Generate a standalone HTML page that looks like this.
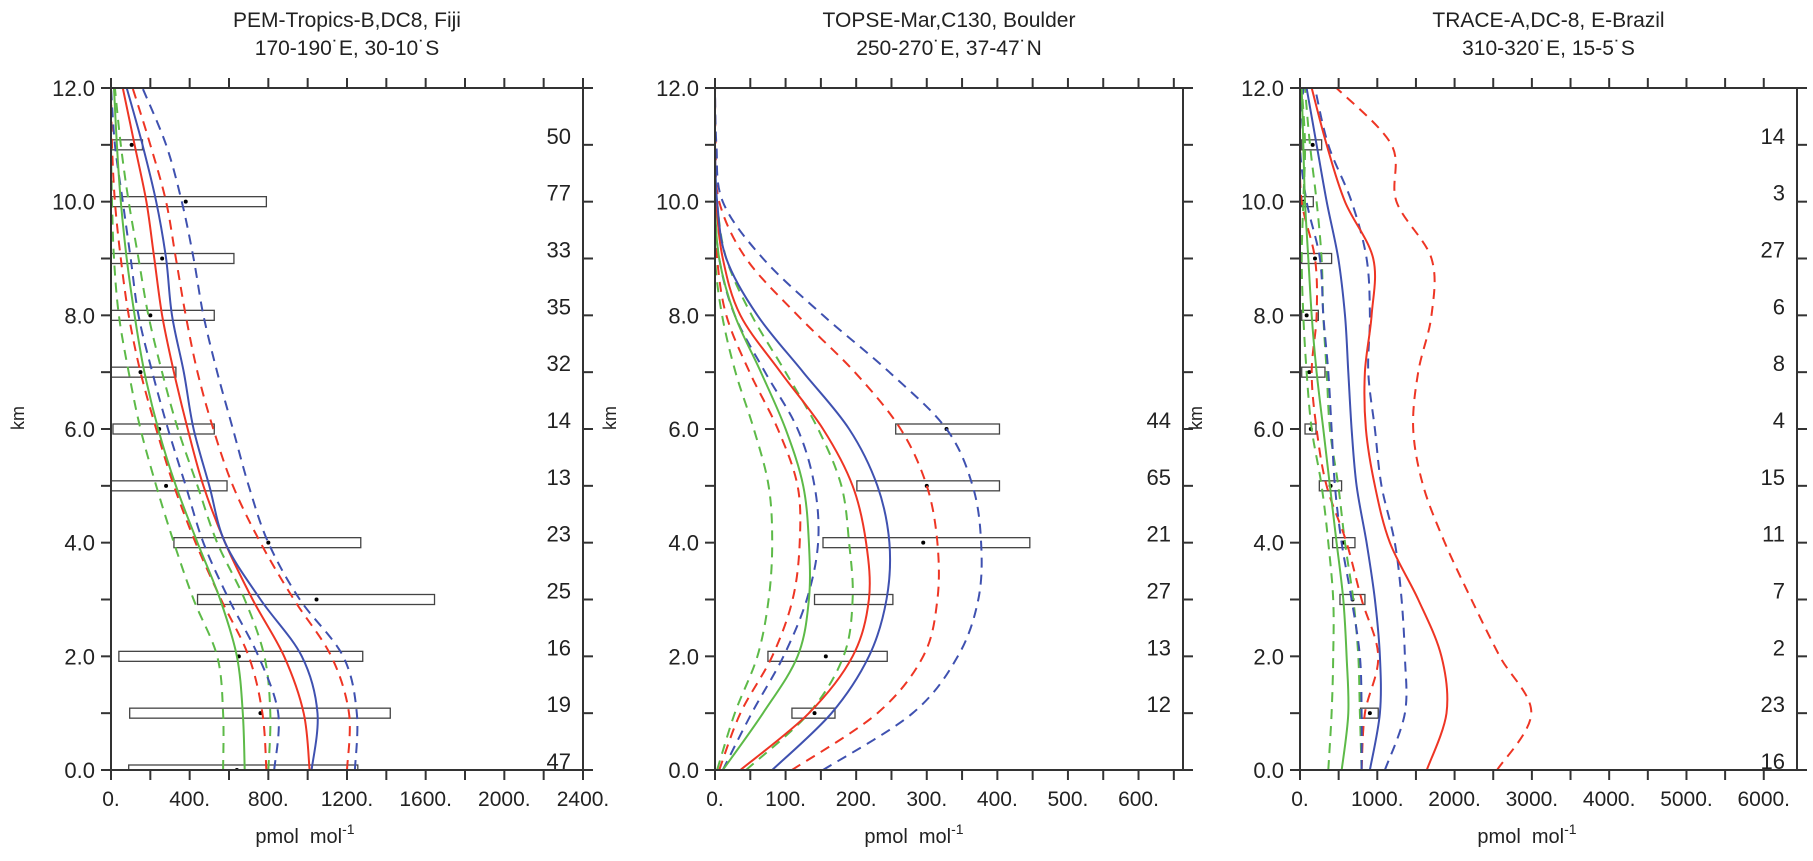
<!DOCTYPE html>
<html><head><meta charset="utf-8"><style>
html,body{margin:0;padding:0;background:#fff;}
svg{display:block;}
text{font-family:"Liberation Sans",sans-serif;fill:#222;}
</style></head><body>
<svg id="chart" width="1813" height="861" viewBox="0 0 1813 861" xmlns="http://www.w3.org/2000/svg"></svg>
<script>
// ---------- data ----------
const altitudes = [0,1,2,3,4,5,6,7,8,9,10,11,12];
// Panel 1: PEM-Tropics-B
const p1RedSolid  = [1010,980,880,720,580,470,390,320,260,220,180,120,60];
const p1RedLow    = [790,770,700,560,430,320,230,150,90,50,20,5,0];
const p1RedHigh   = [1200,1210,1120,930,760,620,520,440,380,330,280,200,110];
const p1BlueSolid = [1020,1050,970,760,580,500,420,370,310,280,230,160,80];
const p1BlueLow   = [830,850,750,600,470,380,290,210,140,100,60,20,0];
const p1BlueHigh  = [1240,1250,1180,960,800,700,620,540,470,420,360,280,160];
const p1GreenSolid= [680,670,640,555,440,330,240,170,120,80,50,30,15];
const p1GreenLow  = [570,570,540,420,320,230,150,90,40,15,5,0,0];
const p1GreenHigh = [800,810,780,680,540,440,340,260,190,140,90,50,20];
const p1BarAlt  = [0,1,2,3,4,5,6,7,8,9,10,11];
const p1BarMin  = [90,95,40,440,320,0,10,0,0,0,0,0];
const p1BarMax  = [1255,1420,1280,1645,1270,590,525,330,525,625,790,160];
const p1BarMean = [640,760,650,1045,800,280,245,150,200,260,380,105];
const p1Counts  = ["47","19","16","25","23","13","14","32","35","33","77","50"];
// Panel 2: TOPSE
const p2RedSolid  = [36,133,195,218,214,195,153,93,36,11,2,0,0];
const p2RedLow    = [6,36,81,110,120,117,89,49,16,3,0,0,0];
const p2RedHigh   = [109,230,295,315,315,300,263,198,117,44,6,1,0];
const p2BlueSolid = [81,165,218,243,247,230,190,125,60,16,3,0,0];
const p2BlueLow   = [11,52,97,130,146,141,117,71,28,6,0,0,0];
const p2BlueHigh  = [153,280,344,373,377,365,328,247,153,68,11,2,0];
const p2GreenSolid= [11,68,117,133,133,125,100,65,28,6,0,0,0];
const p2GreenLow  = [3,28,60,76,81,76,55,29,10,0,0,0,0];
const p2GreenHigh = [44,133,182,195,190,179,146,100,52,16,3,0,0];
const p2BarAlt  = [1,2,3,4,5,6];
const p2BarMin  = [109,75,141,153,201,256];
const p2BarMax  = [170,244,252,446,403,403];
const p2BarMean = [141,157,null,295,300,328];
const p2Counts  = ["12","13","27","21","65","44"];
// Panel 3: TRACE-A
const p3RedSolid  = [1640,1895,1830,1529,1163,969,853,840,926,947,582,345,151];
const p3RedLow    = [797,840,1012,797,603,344,215,151,215,194,22,0,0];
const p3RedHigh   = [2550,2993,2584,2218,1874,1594,1465,1529,1701,1701,1249,1184,474];
const p3BlueSolid = [904,1034,1034,969,861,732,668,625,582,495,345,215,86];
const p3BlueLow   = [797,797,775,668,538,452,409,366,301,258,86,0,43];
const p3BlueHigh  = [1098,1357,1357,1314,1227,1055,969,883,904,861,668,366,194];
const p3GreenSolid= [540,625,603,560,474,387,301,215,151,108,65,43,22];
const p3GreenLow  = [366,409,430,430,366,280,151,86,43,22,43,65,22];
const p3GreenHigh = [797,775,754,689,582,495,387,345,301,280,215,129,65];
const p3BarAlt  = [1,3,4,5,6,7,8,9,10,11];
const p3BarMin  = [783,517,422,250,65,22,22,22,22,22];
const p3BarMax  = [1012,840,711,538,207,323,237,409,172,280];
const p3BarMean = [904,680,560,396,140,120,86,194,50,164];
const p3Counts  = ["16","23","2","7","11","15","4","8","6","27","3","14"];
const p3CountAlt = [0,1,2,3,4,5,6,7,8,9,10,11];

const RED="#ee3524", BLUE="#3f51b0", GREEN="#5dba48";
const svg=document.getElementById('chart');
const NS="http://www.w3.org/2000/svg";
function mk(tag,attrs,parent){const e=document.createElementNS(NS,tag);for(const k in attrs)e.setAttribute(k,attrs[k]);(parent||svg).appendChild(e);return e;}

const Y0=770, Y12=88;
function yScale(km){return Y0-(Y0-Y12)*km/12;}

function smoothPath(pts){
  let d="M"+pts[0][0].toFixed(1)+","+pts[0][1].toFixed(1);
  for(let i=0;i<pts.length-1;i++){
    const p0=pts[i-1]||pts[i],p1=pts[i],p2=pts[i+1],p3=pts[i+2]||p2;
    const c1=[p1[0]+(p2[0]-p0[0])/6,p1[1]+(p2[1]-p0[1])/6];
    const c2=[p2[0]-(p3[0]-p1[0])/6,p2[1]-(p3[1]-p1[1])/6];
    d+=" C"+c1[0].toFixed(1)+","+c1[1].toFixed(1)+" "+c2[0].toFixed(1)+","+c2[1].toFixed(1)+" "+p2[0].toFixed(1)+","+p2[1].toFixed(1);
  }
  return d;
}

function panel(cfg){
  const g=mk('g',{});
  
  
  const xs=v=>cfg.x0+(v/cfg.max)*(cfg.x1-cfg.x0);
  const cx=(cfg.x0+cfg.x1)/2;
  const t1=mk('text',{x:cx,y:27,'text-anchor':'middle','font-size':21},g);t1.textContent=cfg.title1;
  
  
  const t2=mk('text',{x:cx,y:55,'text-anchor':'middle','font-size':21},g);t2.textContent=cfg.title2;
  
  
  const cid='clip'+cfg.id;
  const cp=mk('clipPath',{id:cid},g);mk('rect',{x:cfg.x0,y:Y12,width:cfg.x1-cfg.x0,height:Y0-Y12},cp);
  const plot=mk('g',{'clip-path':'url(#'+cid+')'},g);
  cfg.bars.alt.forEach((a,i)=>{
    const y=yScale(a);
    const r=mk('rect',{x:xs(cfg.bars.min[i]),y:y-5,width:Math.max(2,xs(cfg.bars.max[i])-xs(cfg.bars.min[i])),height:10,fill:'#fff',stroke:'#444','stroke-width':1.3},plot);
    
    
    if(cfg.bars.mean[i]!=null){
      const c=mk('circle',{cx:xs(cfg.bars.mean[i]),cy:y,r:2,fill:'#000'},plot);
      
      
    }
  });
  cfg.series.forEach(s=>{
    const pts=altitudes.map((a,i)=>[xs(s.v[i]),yScale(a)]);
    const p=mk('path',{d:smoothPath(pts),fill:'none',stroke:s.c,'stroke-width':2,'stroke-dasharray':s.dash?'10,7':'none'},plot);
    
    
  });
  const f=mk('rect',{x:cfg.x0,y:Y12,width:cfg.x1-cfg.x0,height:Y0-Y12,fill:'none',stroke:'#333','stroke-width':2},g);
  
  
  for(let v=0;v<=cfg.max+1e-6;v+=cfg.tick){
    const x=xs(v);
    if(x>cfg.x1+1)break;
    mk('line',{x1:x,y1:Y0,x2:x,y2:Y0+10,stroke:'#333','stroke-width':2},g);
    mk('line',{x1:x,y1:Y12,x2:x,y2:Y12-10,stroke:'#333','stroke-width':2},g);
  }
  cfg.xLabels.forEach(v=>{
    const t=mk('text',{x:xs(v),y:806,'text-anchor':'middle','font-size':21},g);
    t.textContent=v+'.';
    
    
  });
  for(let k=0;k<=12;k++){
    const y=yScale(k);
    mk('line',{x1:cfg.x0-10,y1:y,x2:cfg.x0,y2:y,stroke:'#333','stroke-width':2},g);
    mk('line',{x1:cfg.x1,y1:y,x2:cfg.x1+10,y2:y,stroke:'#333','stroke-width':2},g);
    if(k%2===0){
      const t=mk('text',{x:cfg.x0-16,y:y+8,'text-anchor':'end','font-size':22},g);
      t.textContent=k.toFixed(1);
      
      
    }
  }
  cfg.counts.alt.forEach((a,i)=>{
    const t=mk('text',{x:cfg.x1-12,y:yScale(a)-1,'text-anchor':'end','font-size':22},g);
    t.textContent=cfg.counts.v[i];
    
    
  });
  const yl=mk('text',{x:cfg.ylx,y:418,'text-anchor':'middle','font-size':18,transform:'rotate(-90 '+cfg.ylx+' 418)'},g);
  yl.textContent='km';
  
  
  const xl=mk('text',{x:cfg.xlx,y:843,'text-anchor':'middle','font-size':20},g);
  
  
  xl.innerHTML='pmol&#160;&#160;mol<tspan dy="-9" font-size="14">-1</tspan>';
}

function mkSeries(r,rl,rh,b,bl,bh,gs,gl,gh){
  return [
    {n:'green-dashed-low',c:GREEN,dash:1,v:gl},{n:'green-dashed-high',c:GREEN,dash:1,v:gh},
    {n:'red-dashed-low',c:RED,dash:1,v:rl},{n:'red-dashed-high',c:RED,dash:1,v:rh},
    {n:'blue-dashed-low',c:BLUE,dash:1,v:bl},{n:'blue-dashed-high',c:BLUE,dash:1,v:bh},
    {n:'green-solid',c:GREEN,dash:0,v:gs},{n:'red-solid',c:RED,dash:0,v:r},{n:'blue-solid',c:BLUE,dash:0,v:b}];
}

panel({id:1,name:'panel-pem-tropics',x0:111,x1:583,max:2400,tick:200,xLabels:[0,400,800,1200,1600,2000,2400],
  title1:'PEM-Tropics-B,DC8, Fiji',title2:'170-190\u02d9E, 30-10\u02d9S',ylx:24,xlx:305,
  bars:{alt:p1BarAlt,min:p1BarMin,max:p1BarMax,mean:p1BarMean},
  counts:{alt:[0,1,2,3,4,5,6,7,8,9,10,11],v:p1Counts},
  series:mkSeries(p1RedSolid,p1RedLow,p1RedHigh,p1BlueSolid,p1BlueLow,p1BlueHigh,p1GreenSolid,p1GreenLow,p1GreenHigh)});
panel({id:2,name:'panel-topse',x0:715,x1:1183,max:663,tick:50,xLabels:[0,100,200,300,400,500,600],
  title1:'TOPSE-Mar,C130, Boulder',title2:'250-270\u02d9E, 37-47\u02d9N',ylx:616,xlx:914,
  bars:{alt:p2BarAlt,min:p2BarMin,max:p2BarMax,mean:p2BarMean},
  counts:{alt:[1,2,3,4,5,6],v:p2Counts},
  series:mkSeries(p2RedSolid,p2RedLow,p2RedHigh,p2BlueSolid,p2BlueLow,p2BlueHigh,p2GreenSolid,p2GreenLow,p2GreenHigh)});
panel({id:3,name:'panel-trace-a',x0:1300,x1:1797,max:6430,tick:500,xLabels:[0,1000,2000,3000,4000,5000,6000],
  title1:'TRACE-A,DC-8, E-Brazil',title2:'310-320\u02d9E, 15-5\u02d9S',ylx:1202,xlx:1527,
  bars:{alt:p3BarAlt,min:p3BarMin,max:p3BarMax,mean:p3BarMean},
  counts:{alt:p3CountAlt,v:p3Counts},
  series:mkSeries(p3RedSolid,p3RedLow,p3RedHigh,p3BlueSolid,p3BlueLow,p3BlueHigh,p3GreenSolid,p3GreenLow,p3GreenHigh)});
</script>
</body></html>
